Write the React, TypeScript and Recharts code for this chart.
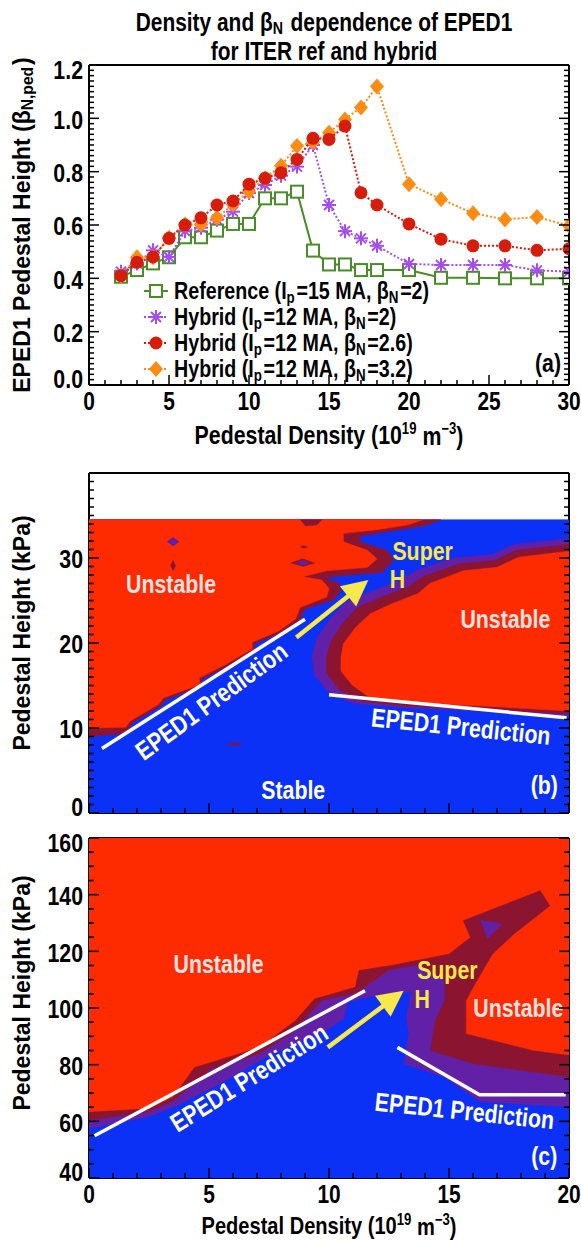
import React from 'react';
import { ComposedChart, Scatter, XAxis, YAxis } from 'recharts';

// ---------------- colours / fonts ----------------
const FONT = "'Liberation Sans', Arial, Helvetica, sans-serif";
const SX = 0.82;
const BLUE = '#0b31f6';
const RED = '#fe2a00';
const MAROON = '#8b1531';
const PURPLE = '#6120a6';
const YELLOW = '#f7e84c';
const PINK = '#f6e3e1';
const GREEN = '#4a8c28';
const VIOLET = '#a34df0';
const DRED = '#d61c0a';
const ORANGE = '#ff8b12';

// ---------------- panel (a) data ----------------
const densityA = [2, 3, 4, 5, 6, 7, 8, 9, 10, 11, 12, 13, 14, 15, 16, 17, 18, 20, 22, 24, 26, 28, 30];
const referenceBeta = [0.406, 0.431, 0.456, 0.479, 0.554, 0.554, 0.579, 0.604, 0.604, 0.70, 0.70, 0.725, 0.504, 0.452, 0.452, 0.431, 0.431, 0.431, 0.402, 0.402, 0.40, 0.40, 0.40];
const hybridBeta20 = [0.425, 0.456, 0.505, 0.48, 0.577, 0.59, 0.62, 0.65, 0.72, 0.75, 0.785, 0.819, 0.90, 0.675, 0.577, 0.55, 0.522, 0.454, 0.45, 0.45, 0.45, 0.43, 0.425];
const hybridBeta26 = [0.41, 0.46, 0.48, 0.55, 0.60, 0.627, 0.675, 0.69, 0.753, 0.775, 0.796, 0.846, 0.925, 0.921, 0.971, 0.721, 0.675, 0.604, 0.547, 0.522, 0.522, 0.505, 0.511];
const hybridBeta32 = [0.41, 0.479, 0.479, 0.552, 0.602, 0.602, 0.627, 0.677, 0.725, 0.775, 0.822, 0.896, 0.91, 0.946, 0.996, 1.041, 1.119, 0.753, 0.697, 0.644, 0.621, 0.63, 0.597];

const xMajorA = [0, 5, 10, 15, 20, 25, 30];
const yMajorA = [0, 0.2, 0.4, 0.6, 0.8, 1.0, 1.2];
const xMajorBC = [0, 5, 10, 15, 20];
const yMajorB = [0, 10, 20, 30, 40];
const yMajorC = [40, 60, 80, 100, 120, 140, 160];

// ---------------- panel (b) contour regions (density, kPa) ----------------
const bStableArea = [[0, 0], [20, 0], [20, 34.5], [0, 34.5]];
const bLeftMaroon = [[0, 34.5], [14.65, 34.5], [14.0, 33.8], [12.2, 33.0], [11.3, 32.6], [11.3, 31.9], [12.4, 30.9], [12.7, 29.8], [12.2, 28.3], [10.4, 27.9], [9.8, 27.6], [10.4, 27.1], [10.5, 26.2], [10.2, 25.1], [9.0, 24.0], [8.75, 22.6], [8.0, 21.2], [6.9, 19.9], [6.9, 19.1], [5.8, 17.3], [4.7, 15.7], [4.7, 14.9], [3.2, 13.35], [3.0, 12.6], [1.8, 10.6], [1.6, 9.4], [0, 9.0]];
const bLeftRed = [[0, 34.5], [13.9, 34.5], [13.3, 33.9], [11.9, 33.3], [10.6, 32.9], [10.6, 31.9], [11.6, 30.9], [12.0, 29.9], [11.6, 28.9], [9.9, 28.5], [8.9, 27.8], [9.7, 27.4], [10.0, 26.4], [9.9, 25.4], [8.8, 24.2], [8.6, 22.8], [7.9, 21.4], [6.8, 20.1], [6.8, 19.3], [5.7, 17.5], [4.6, 15.9], [4.6, 15.1], [3.1, 13.55], [2.9, 12.8], [1.7, 10.8], [1.54, 10.1], [0, 10.0]];
const bRightPurple = [[20, 32.3], [17.7, 31.6], [16.8, 30.4], [15.2, 30.0], [13.6, 28.5], [12.9, 27.3], [11.8, 26.1], [10.7, 24.8], [10.1, 23.0], [9.5, 20.6], [9.3, 18.4], [9.4, 16.2], [10.0, 14.2], [11.0, 12.9], [13.1, 12.4], [16.3, 12.0], [20, 11.5]];
const bRightMaroon = [[20, 31.6], [17.8, 30.9], [16.9, 29.7], [15.4, 29.3], [13.9, 27.8], [13.3, 26.6], [12.2, 25.4], [11.2, 24.2], [10.6, 22.4], [10.1, 20.3], [9.9, 18.4], [9.9, 16.5], [10.4, 14.6], [11.3, 13.2], [13.2, 12.6], [16.3, 12.2], [20, 11.7]];
const bRightRed = [[20, 30.8], [17.9, 30.1], [17.0, 28.9], [15.6, 28.5], [14.2, 27.0], [13.7, 25.8], [12.6, 24.6], [11.7, 23.4], [11.1, 21.8], [10.6, 19.9], [10.5, 18.3], [10.5, 16.7], [10.95, 15.1], [11.7, 13.6], [13.3, 13.0], [16.3, 12.6], [20, 12.0]];
const bBlobMaroon1 = [[8.8, 34.5], [9.7, 34.5], [9.5, 33.9], [9.0, 33.8]];
const bBlobMaroon2 = [[3.4, 29.1], [3.5, 29.7], [3.6, 29.1], [3.5, 28.5]];
const bBlobMaroon3 = [[8.4, 29.4], [8.9, 29.9], [9.4, 29.4], [8.9, 29.0]];
const bBlobMaroon4 = [[8.8, 31.3], [8.95, 31.45], [9.1, 31.3], [8.95, 31.15]];
const bBlobMaroon5 = [[5.8, 8.2], [6.3, 8.2], [6.3, 8.0], [5.8, 8.0]];
const bBlobPurple1 = [[3.25, 31.9], [3.5, 32.4], [3.75, 31.9], [3.5, 31.4]];
const bBlobPurple2 = [[8.65, 29.4], [8.9, 29.7], [9.15, 29.4], [8.9, 29.15]];
const bEped1 = [[0.54, 7.6], [9.0, 22.8]];
const bEped2 = [[10.0, 13.9], [19.9, 11.2]];
const bArrow = [[8.64, 20.65], [11.64, 27.4]];

// ---------------- panel (c) contour regions ----------------
const cUnstableArea = [[0, 40], [20, 40], [20, 160], [0, 160]];
const cMaroon = [[0, 63.2], [2.5, 64.4], [3.5, 68.5], [4.4, 79], [5.1, 80.8], [7.1, 86], [8.6, 95.5], [9.4, 103.2], [11.1, 107.3], [11.25, 113.2], [12.6, 115], [15.0, 119], [15.9, 124.9], [15.6, 130.8], [18.8, 141.4], [19.2, 136.1], [17.7, 126.1], [16.8, 119], [16.0, 107.3], [15.7, 102.6], [15.7, 90.8], [16.8, 88.5], [18.5, 84.9], [20, 83.2], [20, 40], [0, 40]];
const cPurple = [[0, 60.2], [2.47, 63.2], [3.55, 67.3], [5.1, 78.5], [5.9, 80.2], [7.1, 83.8], [8.6, 92], [9.7, 102.6], [11.1, 104.9], [12.5, 113.2], [13.6, 115], [14.8, 109.6], [14.8, 102.6], [14.4, 95.5], [14.2, 84.9], [16.0, 80.2], [20, 75.5], [20, 40], [0, 40]];
const cPurpleSpur = [[16.3, 131], [17.2, 129.6], [16.6, 124.4]];
const cStable = [[0, 57.3], [2.47, 61.4], [3.7, 65.5], [5.24, 72.0], [7.4, 82.6], [9.87, 92], [10.64, 96.1], [10.8, 102], [11.7, 103.8], [13.4, 105.5], [13.2, 96.7], [13.3, 90.8], [13.1, 80.2], [14.8, 75.5], [16.3, 66.7], [20, 64.9], [20, 40], [0, 40]];
const cEped1 = [[0.23, 54.9], [11.5, 106.1]];
const cEped2 = [[12.85, 86.1], [16.27, 69.4], [19.86, 69.4]];
const cArrow = [[9.95, 86.1], [13.11, 106.1]];

// ---------------- annotations ----------------
const bNotes = [
  { text: 'Unstable', x: 3.42, y: 27.0, kind: 'pink', angle: 0 },
  { text: 'Super', x: 13.9, y: 30.8, kind: 'yellow', angle: 0 },
  { text: 'H', x: 12.85, y: 27.55, kind: 'yellow', angle: 0 },
  { text: 'Unstable', x: 17.35, y: 22.8, kind: 'pink', angle: 0 },
  { text: 'EPED1 Prediction', x: 5.09, y: 13.2, kind: 'white', angle: -36 },
  { text: 'EPED1 Prediction', x: 15.5, y: 10.2, kind: 'white', angle: 6 },
  { text: 'Stable', x: 8.51, y: 2.7, kind: 'white', angle: 0 },
  { text: '(b)', x: 18.97, y: 3.3, kind: 'white', angle: 0 },
];
const cNotes = [
  { text: 'Unstable', x: 5.4, y: 115.5, kind: 'pink', angle: 0 },
  { text: 'Super', x: 14.93, y: 113.4, kind: 'yellow', angle: 0 },
  { text: 'H', x: 13.88, y: 103.2, kind: 'yellow', angle: 0 },
  { text: 'Unstable', x: 17.89, y: 100, kind: 'pink', angle: 0 },
  { text: 'EPED1 Prediction', x: 6.66, y: 75.5, kind: 'white', angle: -32 },
  { text: 'EPED1 Prediction', x: 15.65, y: 63.8, kind: 'white', angle: 6 },
  { text: '(c)', x: 18.97, y: 47.9, kind: 'white', angle: 0 },
];
const noteColor = { pink: PINK, yellow: YELLOW, white: '#ffffff' };

// ---------------- helpers ----------------
const range = (a, b, s) => {
  const out = [];
  for (let i = 0; a + i * s <= b + 1e-9; i++) out.push(Math.round((a + i * s) * 1000) / 1000);
  return out;
};
const toPts = (arr) => arr.map(([x, y]) => ({ x, y }));
const mk = (xs, ys) => xs.map((x, i) => ({ x, y: ys[i] }));
const AXIS = { stroke: '#000', strokeWidth: 2 };
const noShape = () => <g />;

function T({ x, y, size, anchor = 'start', fill = '#000', rotate = 0, baseline = 'auto', vertical = false, sx = SX, children }) {
  const tr = vertical
    ? `translate(${x},${y}) rotate(-90)`
    : `translate(${x},${y}) rotate(${rotate}) scale(${sx},1)`;
  return (
    <g transform={tr}>
      <text x={0} y={0} fontSize={size} fontFamily={FONT} fontWeight={700} fill={fill} textAnchor={anchor} dominantBaseline={baseline}>
        {children}
      </text>
    </g>
  );
}

const Sub = ({ t, size, d = 5 }) => (
  <>
    <tspan fontSize={size * 0.68} dy={d}>{t}</tspan>
    <tspan dy={-d}>{'\u200a'}</tspan>
  </>
);

const makeTick = (side, majors, labelFmt, domain) => (props) => {
  const { x, y, payload } = props;
  const v = payload ? payload.value : 0;
  const major = majors.some((m) => Math.abs(m - v) < 1e-6);
  const len = major ? 10 : 5;
  let x2 = x;
  let y2 = y;
  if (side === 'bottom') y2 = y - len;
  else if (side === 'top') y2 = y + len;
  else if (side === 'left') x2 = x + len;
  else x2 = x - len;
  const lab = labelFmt && major ? labelFmt(v) : null;
  let shift = 1;
  if (domain && Math.abs(v - domain[0]) < 1e-6) shift = -6;
  if (domain && Math.abs(v - domain[1]) < 1e-6) shift = 5;
  return (
    <g>
      <line x1={x} y1={y} x2={x2} y2={y2} stroke="#000" strokeWidth={1.5} />
      {lab !== null && side === 'bottom' ? (
        <T x={x} y={y + 16.5} size={25.5} anchor="middle" baseline="central">{lab}</T>
      ) : null}
      {lab !== null && side === 'left' ? (
        <T x={x - 6} y={y + shift} size={26} anchor="end" baseline="central">{lab}</T>
      ) : null}
    </g>
  );
};

function frameAxes(o) {
  const common = { type: 'number', allowDataOverflow: true, interval: 0, tickSize: 0, tickMargin: 0, tickLine: false, axisLine: AXIS };
  return [
    <XAxis key="xb" xAxisId={0} dataKey="x" domain={o.xDomain} ticks={o.xTicks} height={1} tick={makeTick('bottom', o.xMajors, o.xLabel)} {...common} />,
    <XAxis key="xt" xAxisId="top" orientation="top" domain={o.xDomain} ticks={o.xTicks} height={1} tick={makeTick('top', o.xMajors, null)} {...common} />,
    <YAxis key="yl" yAxisId={0} dataKey="y" domain={o.yDomain} ticks={o.yTicks} width={1} tick={makeTick('left', o.yMajors, o.yLabel, o.yDomain)} {...common} />,
    <YAxis key="yr" yAxisId="right" orientation="right" domain={o.yDomain} ticks={o.yTicks} width={1} tick={makeTick('right', o.yMajors, null)} {...common} />,
  ];
}

// markers
const squareMarker = (cx, cy) => <rect x={cx - 6} y={cy - 6} width={12} height={12} fill="#fff" stroke={GREEN} strokeWidth={2} />;
const starMarker = (cx, cy) => (
  <g stroke={VIOLET} strokeWidth={2}>
    <line x1={cx - 7} y1={cy} x2={cx + 7} y2={cy} />
    <line x1={cx} y1={cy - 7} x2={cx} y2={cy + 7} />
    <line x1={cx - 5} y1={cy - 5} x2={cx + 5} y2={cy + 5} />
    <line x1={cx - 5} y1={cy + 5} x2={cx + 5} y2={cy - 5} />
  </g>
);
const circleMarker = (cx, cy) => <circle cx={cx} cy={cy} r={6.5} fill={DRED} />;
const diamondMarker = (cx, cy) => <polygon points={`${cx},${cy - 8} ${cx + 7},${cy} ${cx},${cy + 8} ${cx - 7},${cy}`} fill={ORANGE} />;
const shapeOf = (fn) => (p) => (p.cx == null ? <g /> : fn(p.cx, p.cy));

const arrowLine = (p) => {
  const pts = p.points || [];
  if (pts.length < 2) return <g />;
  const a = pts[0];
  const b = pts[pts.length - 1];
  const ang = Math.atan2(b.y - a.y, b.x - a.x);
  const L = 26;
  const W = 13;
  const bx = b.x - L * Math.cos(ang);
  const by = b.y - L * Math.sin(ang);
  const nx = -Math.sin(ang);
  const ny = Math.cos(ang);
  return (
    <g>
      <line x1={a.x} y1={a.y} x2={bx + 2 * Math.cos(ang)} y2={by + 2 * Math.sin(ang)} stroke={YELLOW} strokeWidth={4.5} />
      <polygon points={`${b.x},${b.y} ${bx + nx * W},${by + ny * W} ${bx - nx * W},${by - ny * W}`} fill={YELLOW} />
    </g>
  );
};

const noteShape = (p) => {
  if (p.cx == null) return <g />;
  const d = p.payload;
  return (
    <T x={p.cx} y={p.cy} size={26} fill={noteColor[d.kind]} rotate={d.angle} anchor="middle" baseline="central">
      {d.text}
    </T>
  );
};

const poly = (key, arr, color) => (
  <Scatter key={key} data={toPts(arr)} line={{ fill: color, stroke: color, strokeWidth: 0.6 }} lineType="joint" shape={noShape} isAnimationActive={false} />
);
const whiteLine = (key, arr) => (
  <Scatter key={key} data={toPts(arr)} line={{ fill: 'none', stroke: '#ffffff', strokeWidth: 3.5 }} lineType="joint" shape={noShape} isAnimationActive={false} />
);
const arrow = (key, arr) => (
  <Scatter key={key} data={toPts(arr)} line={arrowLine} lineType="joint" shape={noShape} isAnimationActive={false} />
);
const notes = (key, arr) => <Scatter key={key} data={arr} shape={noteShape} isAnimationActive={false} />;

// ---------------- charts ----------------
function ChartA() {
  return (
    <ComposedChart width={581} height={460} margin={{ top: 64, right: 11, bottom: 74, left: 88 }}>
      <Scatter data={mk(densityA, referenceBeta)} line={{ stroke: GREEN, strokeWidth: 2, fill: 'none' }} lineType="joint" shape={shapeOf(squareMarker)} isAnimationActive={false} />
      <Scatter data={mk(densityA, hybridBeta20)} line={{ stroke: VIOLET, strokeWidth: 2, fill: 'none', strokeDasharray: '2 2' }} lineType="joint" shape={shapeOf(starMarker)} isAnimationActive={false} />
      <Scatter data={mk(densityA, hybridBeta32)} line={{ stroke: ORANGE, strokeWidth: 2, fill: 'none', strokeDasharray: '2 2' }} lineType="joint" shape={shapeOf(diamondMarker)} isAnimationActive={false} />
      <Scatter data={mk(densityA, hybridBeta26)} line={{ stroke: DRED, strokeWidth: 2, fill: 'none', strokeDasharray: '2 2' }} lineType="joint" shape={shapeOf(circleMarker)} isAnimationActive={false} />
      {frameAxes({
        xDomain: [0, 30], xTicks: range(0, 30, 1), xMajors: xMajorA, xLabel: (v) => String(v),
        yDomain: [0, 1.2], yTicks: range(0, 1.2, 0.02), yMajors: yMajorA, yLabel: (v) => v.toFixed(1),
      })}
    </ComposedChart>
  );
}

function ChartB() {
  return (
    <ComposedChart width={581} height={390} margin={{ top: 22, right: 11, bottom: 26, left: 88 }}>
      {poly('s', bStableArea, BLUE)}
      {poly('lm', bLeftMaroon, MAROON)}
      {poly('lr', bLeftRed, RED)}
      {poly('rp', bRightPurple, PURPLE)}
      {poly('rm', bRightMaroon, MAROON)}
      {poly('rr', bRightRed, RED)}
      {poly('b1', bBlobMaroon1, MAROON)}
      {poly('b2', bBlobMaroon2, MAROON)}
      {poly('b3', bBlobMaroon3, MAROON)}
      {poly('b4', bBlobMaroon4, MAROON)}
      {poly('b5', bBlobMaroon5, MAROON)}
      {poly('b6', bBlobPurple1, PURPLE)}
      {poly('b7', bBlobPurple2, PURPLE)}
      {whiteLine('e1', bEped1)}
      {whiteLine('e2', bEped2)}
      {arrow('ar', bArrow)}
      {notes('n', bNotes)}
      {frameAxes({
        xDomain: [0, 20], xTicks: range(0, 20, 1), xMajors: xMajorBC, xLabel: null,
        yDomain: [0, 40], yTicks: range(0, 40, 1), yMajors: yMajorB, yLabel: (v) => (v < 40 ? String(v) : null),
      })}
    </ComposedChart>
  );
}

function ChartC() {
  return (
    <ComposedChart width={581} height={441} margin={{ top: 37, right: 11, bottom: 62, left: 88 }}>
      {poly('u', cUnstableArea, RED)}
      {poly('m', cMaroon, MAROON)}
      {poly('p', cPurple, PURPLE)}
      {poly('ps', cPurpleSpur, PURPLE)}
      {poly('s', cStable, BLUE)}
      {whiteLine('e1', cEped1)}
      {whiteLine('e2', cEped2)}
      {arrow('ar', cArrow)}
      {notes('n', cNotes)}
      {frameAxes({
        xDomain: [0, 20], xTicks: range(0, 20, 1), xMajors: xMajorBC, xLabel: (v) => String(v),
        yDomain: [40, 160], yTicks: range(40, 160, 5), yMajors: yMajorC, yLabel: (v) => String(v),
      })}
    </ComposedChart>
  );
}

const legendRows = [
  { label: 'Reference', ip: '15', beta: '2', color: GREEN, dash: undefined, marker: squareMarker },
  { label: 'Hybrid', ip: '12', beta: '2', color: VIOLET, dash: '2 2', marker: starMarker },
  { label: 'Hybrid', ip: '12', beta: '2.6', color: DRED, dash: '2 2', marker: circleMarker },
  { label: 'Hybrid', ip: '12', beta: '3.2', color: ORANGE, dash: '2 2', marker: diamondMarker },
];
const legendY = [291, 317, 343, 369];

const XTitle = ({ y, size = 26 }) => (
  <T x={329} y={y} size={size} anchor="middle" baseline="central">
    Pedestal Density (10<tspan fontSize={16} dy={-6}>19</tspan><tspan dy={6}> m</tspan><tspan fontSize={16} dy={-6}>−3</tspan><tspan dy={6}>)</tspan>
  </T>
);

function Overlay() {
  return (
    <svg width={581} height={1241} style={{ position: 'absolute', left: 0, top: 0, pointerEvents: 'none' }}>
      <T x={324} y={31} size={25.5} anchor="middle">
        Density and β<Sub t="N" size={25.5} d={3} /> dependence of EPED1
      </T>
      <T x={324} y={60} size={25.5} anchor="middle">for ITER ref and hybrid</T>
      <T x={22} y={225} size={23} anchor="middle" baseline="central" vertical>
        EPED1 Pedestal Height (β<Sub t="N,ped" size={23} />)
      </T>
      <XTitle y={435} />
      {legendRows.map((r, i) => (
        <g key={i}>
          <line x1={144} y1={legendY[i]} x2={168} y2={legendY[i]} stroke={r.color} strokeWidth={2} strokeDasharray={r.dash} />
          {r.marker(156, legendY[i])}
          <T x={174} y={legendY[i]} size={24} baseline="central">
            {r.label} (I<Sub t="p" size={24} />={r.ip} MA, β<Sub t="N" size={24} />={r.beta})
          </T>
        </g>
      ))}
      <T x={561} y={363} size={26} anchor="end" baseline="central">(a)</T>
      <T x={22} y={633} size={23} anchor="middle" baseline="central" vertical>Pedestal Height (kPa)</T>
      <T x={22} y={993} size={23} anchor="middle" baseline="central" vertical>Pedestal Height (kPa)</T>
      <XTitle y={1226} size={24.5} />
    </svg>
  );
}

export default function App() {
  return (
    <div style={{ position: 'absolute', left: 0, top: 0, width: 581, height: 1241, background: '#fff', overflow: 'hidden' }}>
      <div style={{ position: 'absolute', left: 0, top: 0 }}><ChartA /></div>
      <div style={{ position: 'absolute', left: 0, top: 450 }}><ChartB /></div>
      <div style={{ position: 'absolute', left: 0, top: 800 }}><ChartC /></div>
      <Overlay />
    </div>
  );
}
